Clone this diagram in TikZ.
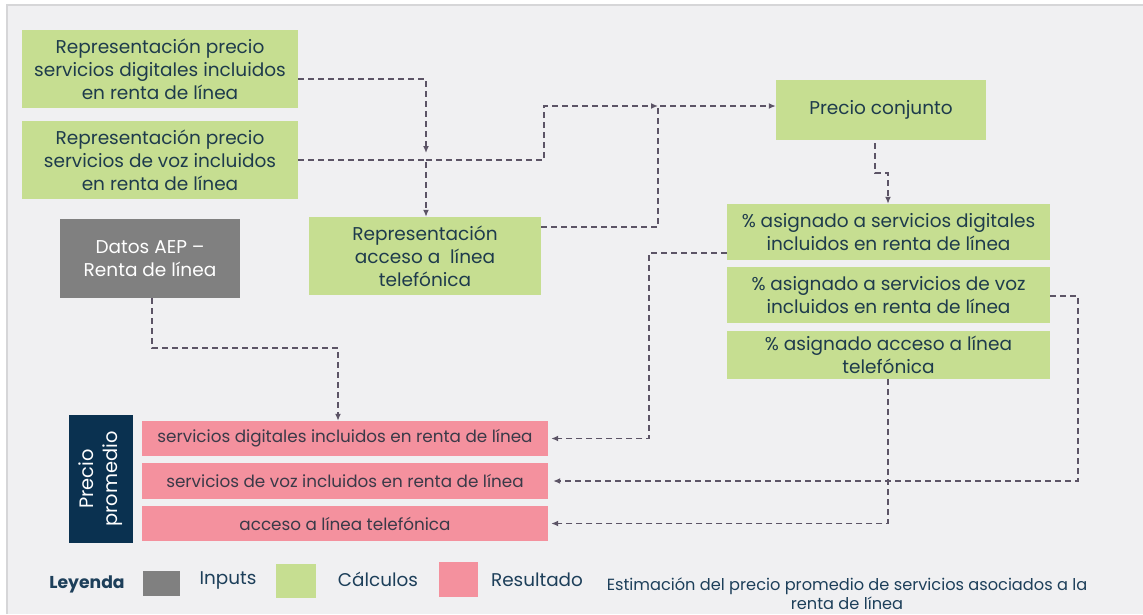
\documentclass[tikz,border=0pt]{standalone}
\usepackage{fontspec}
\setmainfont{Poppins}
\usetikzlibrary{arrows.meta}
\definecolor{bgc}{HTML}{F0F0F2}
\definecolor{framec}{HTML}{D6D6D8}
\definecolor{calcc}{HTML}{C6DE91}
\definecolor{inpc}{HTML}{808080}
\definecolor{resc}{HTML}{F4919E}
\definecolor{navyc}{HTML}{0A3150}
\definecolor{txtc}{HTML}{1E3B4C}
\definecolor{restxt}{HTML}{3A3A48}
\definecolor{lnc}{HTML}{5C5466}
\definecolor{capc}{HTML}{1D3F5A}
\tikzset{
  box/.style={inner sep=0pt, align=center, font=\fontsize{18.5}{23}\selectfont, text=txtc},
  calcbox/.style={box, fill=calcc},
  inpbox/.style={box, fill=inpc, text=white},
  resbox/.style={box, fill=resc, text=restxt, font=\fontsize{16.8}{20}\selectfont},
  line/.style={draw=lnc, line width=1.8pt, dash pattern=on 6pt off 4pt},
  conn/.style={line, -{Latex[length=7pt,width=6pt]}},
  legtext/.style={inner sep=0pt, text=capc, font=\fontsize{18.4}{22}\selectfont},
}
\begin{document}
\begin{tikzpicture}[x=1pt,y=-1pt]
\useasboundingbox (0,0) rectangle (1143,614);
\fill[white] (0,0) rectangle (1143,614);
\fill[bgc] (7,5) rectangle (1143,614);
\draw[framec, line width=2pt] (7,614) -- (7,5) -- (1143,5);

% calculation boxes
\node[calcbox, minimum width=276pt, minimum height=78pt] (g1) at (160,69)
  {Representación precio\\servicios digitales incluidos\\en renta de línea};
\node[calcbox, minimum width=276pt, minimum height=78pt] (g2) at (160,160)
  {Representación precio\\servicios de voz incluidos\\en renta de línea};
\node[inpbox, minimum width=180pt, minimum height=79pt] (datos) at (150,258.5)
  {Datos AEP –\\Renta de línea};
\node[calcbox, minimum width=232pt, minimum height=78pt] (rep) at (425,256)
  {Representación\\acceso a~ línea\\telefónica};
\node[calcbox, minimum width=210pt, minimum height=60pt] (pc) at (881,110)
  {Precio conjunto};
\node[calcbox, minimum width=323pt, minimum height=56pt] (pdig) at (888.5,232)
  {\% asignado a servicios digitales\\incluidos en renta de línea};
\node[calcbox, minimum width=323pt, minimum height=56pt] (pvoz) at (888.5,295)
  {\% asignado a servicios de voz\\incluidos en renta de línea};
\node[calcbox, minimum width=323pt, minimum height=48pt] (pacc) at (888.5,355)
  {\% asignado acceso a línea\\telefónica};

% results
\node[fill=navyc, minimum width=64pt, minimum height=128pt, inner sep=0pt] (navy) at (101,479) {};
\node[rotate=90, text=white, align=center, inner sep=0pt, font=\fontsize{19.4}{24}\selectfont] (navyt) at (navy.center) {Precio\\promedio};
\node[resbox, minimum width=406pt, minimum height=35pt] (r1) at (345,438.5)
  {servicios digitales incluidos en renta de línea};
\node[resbox, minimum width=406pt, minimum height=36pt] (r2) at (345,481)
  {servicios de voz incluidos en renta de línea};
\node[resbox, minimum width=406pt, minimum height=35pt] (r3) at (345,523.5)
  {acceso a línea telefónica};

% connectors
\coordinate (j1) at (426,153);
\coordinate (k1) at (426,160);
\coordinate (k2) at (544,160);
\coordinate (k3) at (544,106);
\coordinate (k4) at (658,106);
\coordinate (k5) at (658,227);
\draw[conn] ([yshift=-10pt]g1.east) -| (j1);
\draw[conn] (g2.east) -- (k1) -- (k1 |- rep.north);
\draw[conn] (k1) -- (k2) -- (k3) -- (k4);
\draw[conn] ([yshift=29pt]rep.east) -- (k5) -- (k4) -- ([yshift=4pt]pc.west);

\coordinate (p1) at (875,143);
\coordinate (p2) at (875,173);
\coordinate (p3) at (888,173);
\draw[conn] (p1) -- (p2) -- (p3) -- (p3 |- pdig.north);

\coordinate (d1) at (152,298);
\coordinate (d2) at (152,348);
\coordinate (d3) at (338,348);
\draw[conn] (d1) -- (d2) -- (d3) -- (d3 |- r1.north);

\coordinate (e1) at (649,253);
\draw[conn] ([yshift=-21pt]pdig.west) -- (e1) |- ([xshift=3pt]r1.east);
\coordinate (f1) at (1078,296);
\draw[conn] ([yshift=-1pt]pvoz.east) -- (f1) |- ([xshift=5pt]r2.east);
\draw[conn] ([xshift=-0.5pt]pacc.south) |- ([xshift=3pt]r3.east);

% legend
\node[inner sep=0pt, text=capc, font=\fontsize{17.2}{20}\selectfont\bfseries] (ley) at (87,584) {Leyenda};
\node[fill=inpc, minimum width=37pt, minimum height=25pt, inner sep=0pt] (lg1) at (161.5,583.5) {};
\node[legtext] (lt1) at (228,580) {Inputs};
\node[fill=calcc, minimum width=40pt, minimum height=34pt, inner sep=0pt] (lg2) at (296,581) {};
\node[legtext] (lt2) at (378,579) {Cálculos};
\node[fill=resc, minimum width=39pt, minimum height=35pt, inner sep=0pt] (lg3) at (458.5,579.5) {};
\node[legtext] (lt3) at (537,580) {Resultado};
\node[inner sep=0pt, align=center, text=capc, font=\fontsize{16.2}{19}\selectfont] (cap) at (847,594)
  {Estimación del precio promedio de servicios asociados a la\\renta de línea};
\end{tikzpicture}
\end{document}
